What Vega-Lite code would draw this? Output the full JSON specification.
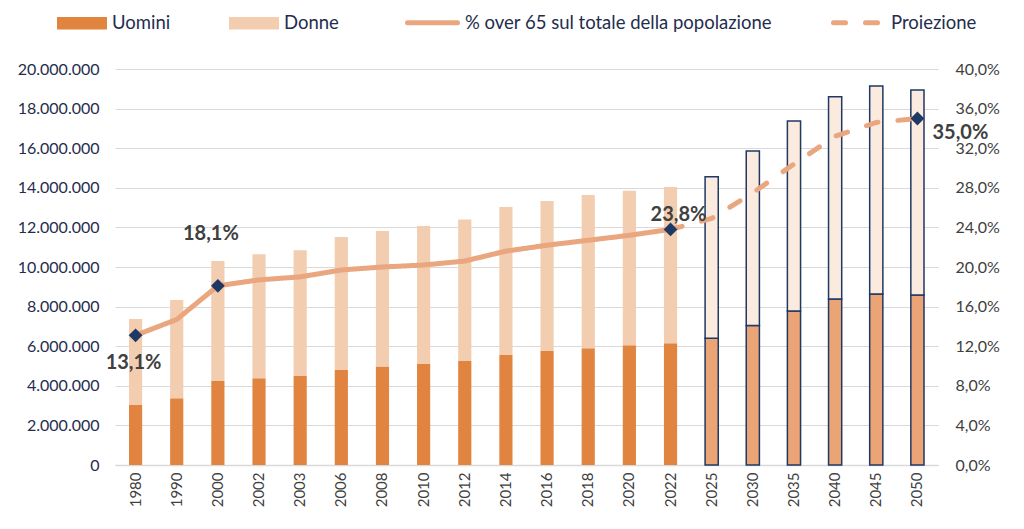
{
  "$schema": "https://vega.github.io/schema/vega-lite/v6.json",
  "width": 823,
  "height": 396,
  "autosize": "none",
  "padding": {"left": 115, "top": 69, "right": 86, "bottom": 64},
  "background": "white",
  "config": {
    "locale": {"number": {"decimal": ",", "thousands": ".", "grouping": [3], "currency": ["€", ""]}},
    "font": "Lato",
    "view": {"stroke": null},
    "axis": {"labelFont": "Lato", "ticks": false, "titleFont": "Lato"}
  },
  "datasets": {
    "popolazione": [
      {"anno": 1980, "sesso": "Uomini", "serie": "Uomini", "fase": "storico", "valore": 3030000},
      {"anno": 1980, "sesso": "Donne", "serie": "Donne", "fase": "storico", "valore": 4340000},
      {"anno": 1990, "sesso": "Uomini", "serie": "Uomini", "fase": "storico", "valore": 3370000},
      {"anno": 1990, "sesso": "Donne", "serie": "Donne", "fase": "storico", "valore": 4960000},
      {"anno": 2000, "sesso": "Uomini", "serie": "Uomini", "fase": "storico", "valore": 4240000},
      {"anno": 2000, "sesso": "Donne", "serie": "Donne", "fase": "storico", "valore": 6060000},
      {"anno": 2002, "sesso": "Uomini", "serie": "Uomini", "fase": "storico", "valore": 4380000},
      {"anno": 2002, "sesso": "Donne", "serie": "Donne", "fase": "storico", "valore": 6260000},
      {"anno": 2003, "sesso": "Uomini", "serie": "Uomini", "fase": "storico", "valore": 4490000},
      {"anno": 2003, "sesso": "Donne", "serie": "Donne", "fase": "storico", "valore": 6350000},
      {"anno": 2006, "sesso": "Uomini", "serie": "Uomini", "fase": "storico", "valore": 4800000},
      {"anno": 2006, "sesso": "Donne", "serie": "Donne", "fase": "storico", "valore": 6720000},
      {"anno": 2008, "sesso": "Uomini", "serie": "Uomini", "fase": "storico", "valore": 4970000},
      {"anno": 2008, "sesso": "Donne", "serie": "Donne", "fase": "storico", "valore": 6850000},
      {"anno": 2010, "sesso": "Uomini", "serie": "Uomini", "fase": "storico", "valore": 5100000},
      {"anno": 2010, "sesso": "Donne", "serie": "Donne", "fase": "storico", "valore": 6970000},
      {"anno": 2012, "sesso": "Uomini", "serie": "Uomini", "fase": "storico", "valore": 5250000},
      {"anno": 2012, "sesso": "Donne", "serie": "Donne", "fase": "storico", "valore": 7150000},
      {"anno": 2014, "sesso": "Uomini", "serie": "Uomini", "fase": "storico", "valore": 5550000},
      {"anno": 2014, "sesso": "Donne", "serie": "Donne", "fase": "storico", "valore": 7480000},
      {"anno": 2016, "sesso": "Uomini", "serie": "Uomini", "fase": "storico", "valore": 5760000},
      {"anno": 2016, "sesso": "Donne", "serie": "Donne", "fase": "storico", "valore": 7570000},
      {"anno": 2018, "sesso": "Uomini", "serie": "Uomini", "fase": "storico", "valore": 5900000},
      {"anno": 2018, "sesso": "Donne", "serie": "Donne", "fase": "storico", "valore": 7740000},
      {"anno": 2020, "sesso": "Uomini", "serie": "Uomini", "fase": "storico", "valore": 6050000},
      {"anno": 2020, "sesso": "Donne", "serie": "Donne", "fase": "storico", "valore": 7800000},
      {"anno": 2022, "sesso": "Uomini", "serie": "Uomini", "fase": "storico", "valore": 6150000},
      {"anno": 2022, "sesso": "Donne", "serie": "Donne", "fase": "storico", "valore": 7890000},
      {"anno": 2025, "sesso": "Uomini", "serie": "Uomini proiezione", "fase": "proiezione", "valore": 6400000},
      {"anno": 2025, "sesso": "Donne", "serie": "Donne proiezione", "fase": "proiezione", "valore": 8160000},
      {"anno": 2030, "sesso": "Uomini", "serie": "Uomini proiezione", "fase": "proiezione", "valore": 7040000},
      {"anno": 2030, "sesso": "Donne", "serie": "Donne proiezione", "fase": "proiezione", "valore": 8820000},
      {"anno": 2035, "sesso": "Uomini", "serie": "Uomini proiezione", "fase": "proiezione", "valore": 7780000},
      {"anno": 2035, "sesso": "Donne", "serie": "Donne proiezione", "fase": "proiezione", "valore": 9590000},
      {"anno": 2040, "sesso": "Uomini", "serie": "Uomini proiezione", "fase": "proiezione", "valore": 8380000},
      {"anno": 2040, "sesso": "Donne", "serie": "Donne proiezione", "fase": "proiezione", "valore": 10220000},
      {"anno": 2045, "sesso": "Uomini", "serie": "Uomini proiezione", "fase": "proiezione", "valore": 8640000},
      {"anno": 2045, "sesso": "Donne", "serie": "Donne proiezione", "fase": "proiezione", "valore": 10500000},
      {"anno": 2050, "sesso": "Uomini", "serie": "Uomini proiezione", "fase": "proiezione", "valore": 8590000},
      {"anno": 2050, "sesso": "Donne", "serie": "Donne proiezione", "fase": "proiezione", "valore": 10350000}
    ],
    "quota": [
      {"anno": 1980, "tratto": "% over 65 sul totale della popolazione", "pct": 0.131},
      {"anno": 1990, "tratto": "% over 65 sul totale della popolazione", "pct": 0.147},
      {"anno": 2000, "tratto": "% over 65 sul totale della popolazione", "pct": 0.181},
      {"anno": 2002, "tratto": "% over 65 sul totale della popolazione", "pct": 0.187},
      {"anno": 2003, "tratto": "% over 65 sul totale della popolazione", "pct": 0.190},
      {"anno": 2006, "tratto": "% over 65 sul totale della popolazione", "pct": 0.197},
      {"anno": 2008, "tratto": "% over 65 sul totale della popolazione", "pct": 0.200},
      {"anno": 2010, "tratto": "% over 65 sul totale della popolazione", "pct": 0.202},
      {"anno": 2012, "tratto": "% over 65 sul totale della popolazione", "pct": 0.206},
      {"anno": 2014, "tratto": "% over 65 sul totale della popolazione", "pct": 0.216},
      {"anno": 2016, "tratto": "% over 65 sul totale della popolazione", "pct": 0.222},
      {"anno": 2018, "tratto": "% over 65 sul totale della popolazione", "pct": 0.227},
      {"anno": 2020, "tratto": "% over 65 sul totale della popolazione", "pct": 0.232},
      {"anno": 2022, "tratto": "% over 65 sul totale della popolazione", "pct": 0.238},
      {"anno": 2022, "tratto": "Proiezione", "pct": 0.238},
      {"anno": 2025, "tratto": "Proiezione", "pct": 0.249},
      {"anno": 2030, "tratto": "Proiezione", "pct": 0.275},
      {"anno": 2035, "tratto": "Proiezione", "pct": 0.304},
      {"anno": 2040, "tratto": "Proiezione", "pct": 0.332},
      {"anno": 2045, "tratto": "Proiezione", "pct": 0.346},
      {"anno": 2050, "tratto": "Proiezione", "pct": 0.350}
    ]
  },
  "layer": [
    {
      "data": {"name": "popolazione"},
      "mark": {"type": "bar", "strokeWidth": 1.5},
      "encoding": {
        "x": {
          "field": "anno",
          "type": "ordinal",
          "scale": {"paddingInner": 0.68, "paddingOuter": 0.34},
          "axis": {
            "title": null,
            "labelAngle": -90,
            "labelAlign": "right",
            "labelBaseline": "middle",
            "labelFontSize": 15,
            "labelColor": "#404040",
            "labelPadding": 7,
            "domain": true,
            "domainColor": "#d9d9d9",
            "domainWidth": 1.5,
            "grid": false
          }
        },
        "y": {
          "field": "valore",
          "type": "quantitative",
          "stack": "zero",
          "scale": {"domain": [0, 20000000], "nice": false},
          "axis": {
            "title": null,
            "orient": "left",
            "format": ",.0f",
            "values": [0, 2000000, 4000000, 6000000, 8000000, 10000000, 12000000, 14000000, 16000000, 18000000, 20000000],
            "labelFontSize": 16,
            "labelColor": "#1f2d4e",
            "labelPadding": 16,
            "domain": false,
            "grid": true,
            "gridColor": "#d9d9d9",
            "gridWidth": 1
          }
        },
        "fill": {
          "field": "serie",
          "type": "nominal",
          "scale": {
            "domain": ["Uomini", "Donne", "Uomini proiezione", "Donne proiezione"],
            "range": ["#e0843f", "#f2cdaf", "#eba475", "#fbebdf"]
          },
          "legend": {
            "title": null,
            "values": ["Uomini", "Donne"],
            "orient": "none",
            "direction": "horizontal",
            "legendX": -58,
            "legendY": -71,
            "symbolType": "M-1,-0.25H1V0.25H-1Z",
            "symbolSize": 2500,
            "symbolStrokeWidth": 0,
            "labelFont": "Lato",
            "labelFontSize": 18.5,
            "labelColor": "#1f2d4e",
            "labelOffset": 5,
            "labelLimit": 0,
            "columnPadding": 58
          }
        },
        "order": {"field": "sesso", "sort": "descending"},
        "stroke": {
          "condition": {"test": "datum.fase === 'proiezione'", "value": "#1f3864"},
          "value": null
        }
      }
    },
    {
      "data": {"name": "quota"},
      "encoding": {
        "x": {"field": "anno", "type": "ordinal"},
        "y": {
          "field": "pct",
          "type": "quantitative",
          "scale": {"domain": [0, 0.4], "nice": false},
          "axis": {
            "title": null,
            "orient": "right",
            "format": ".1%",
            "values": [0, 0.04, 0.08, 0.12, 0.16, 0.2, 0.24, 0.28, 0.32, 0.36, 0.4],
            "labelFontSize": 16,
            "labelColor": "#404040",
            "labelPadding": 17,
            "domain": false,
            "grid": false
          }
        }
      },
      "layer": [
        {
          "mark": {"type": "line", "strokeWidth": 5, "color": "#e9a67f", "strokeCap": "round"},
          "encoding": {
            "strokeDash": {
              "field": "tratto",
              "type": "nominal",
              "scale": {
                "domain": ["% over 65 sul totale della popolazione", "Proiezione"],
                "range": [[1, 0], [12, 20]]
              },
              "legend": {
                "title": null,
                "orient": "none",
                "direction": "horizontal",
                "legendX": 290,
                "legendY": -74,
                "symbolType": "stroke",
                "symbolSize": 2500,
                "symbolStrokeWidth": 5,
                "symbolStrokeColor": "#e9a67f",
                "labelFont": "Lato",
                "labelFontSize": 18.5,
                "labelColor": "#1f2d4e",
                "labelOffset": 5,
                "labelLimit": 0,
                "columnPadding": 51,
                "encode": {"symbols": {"update": {"strokeCap": {"value": "round"}}}}
              }
            }
          }
        },
        {
          "transform": [{"filter": "(datum.anno === 1980 || datum.anno === 2000 || datum.anno === 2050 || (datum.anno === 2022 && datum.tratto === 'Proiezione'))"}],
          "mark": {"type": "point", "shape": "diamond", "filled": true, "color": "#1f3864", "size": 190, "opacity": 1}
        },
        {
          "transform": [{"filter": "datum.anno === 1980"}],
          "mark": {"type": "text", "fontSize": 20, "fontWeight": "bold", "color": "#404040", "dx": -2, "dy": 28},
          "encoding": {"text": {"field": "pct", "type": "quantitative", "format": ".1%"}}
        },
        {
          "transform": [{"filter": "datum.anno === 2000"}],
          "mark": {"type": "text", "fontSize": 20, "fontWeight": "bold", "color": "#404040", "dx": -7, "dy": -52},
          "encoding": {"text": {"field": "pct", "type": "quantitative", "format": ".1%"}}
        },
        {
          "transform": [{"filter": "datum.anno === 2022 && datum.tratto === 'Proiezione'"}],
          "mark": {"type": "text", "fontSize": 20, "fontWeight": "bold", "color": "#404040", "dx": 8, "dy": -14},
          "encoding": {"text": {"field": "pct", "type": "quantitative", "format": ".1%"}}
        },
        {
          "transform": [{"filter": "datum.anno === 2050"}],
          "mark": {"type": "text", "fontSize": 20, "fontWeight": "bold", "color": "#404040", "dx": 43, "dy": 14},
          "encoding": {"text": {"field": "pct", "type": "quantitative", "format": ".1%"}}
        }
      ]
    }
  ],
  "resolve": {"scale": {"y": "independent"}}
}
